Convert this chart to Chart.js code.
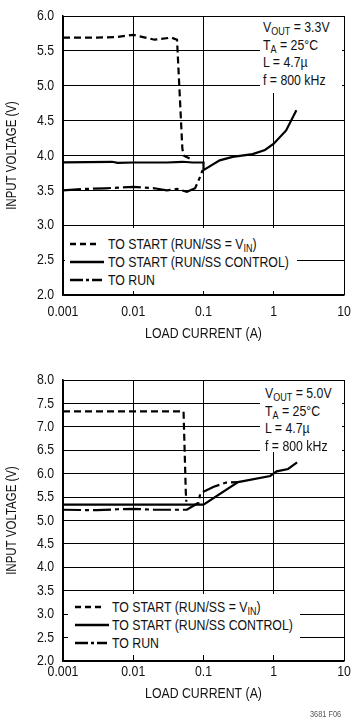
<!DOCTYPE html>
<html>
<head>
<meta charset="utf-8">
<script src="https://cdn.jsdelivr.net/npm/chart.js@4"></script>
<style>
  body { margin: 0; background: #fff; }
  #wrap { position: relative; width: 352px; height: 719px; font-family: 'Liberation Sans', Arial, sans-serif; color: #111; }
  canvas { position: absolute; left: 0; }
  .box { position: absolute; background: #fff; font-size: 15px; white-space: nowrap; box-sizing: border-box; }
  .nar { display: inline-block; transform: scaleX(0.82); transform-origin: 0 50%; }
  .box sub { font-size: 11px; vertical-align: -3px; line-height: 0; }
  .row { display: flex; align-items: center; }
  .row svg { flex: none; }
  #code { position: absolute; left: 310px; top: 709px; font-size: 9px; color: #555; }
</style>
</head>
<body>
<div id="wrap">
  <canvas id="chartTop" width="352" height="350" style="top:0"></canvas>
  <canvas id="chartBottom" width="352" height="359" style="top:360px"></canvas>

  <div class="box note" style="left:260px;top:17px;width:82px;height:76px;padding:1px 0 0 3px;line-height:17.5px">
    <div>V<sub>OUT</sub> = 3.3V</div>
    <div>T<sub>A</sub> = 25°C</div>
    <div>L = 4.7µ</div>
    <div>f = 800 kHz</div>
  </div>
  <div class="box note" style="left:260px;top:381px;width:82px;height:71px;padding:3px 0 0 5px;line-height:17.6px">
    <div>V<sub>OUT</sub> = 5.0V</div>
    <div>T<sub>A</sub> = 25°C</div>
    <div>L = 4.7µ</div>
    <div>f = 800 kHz</div>
  </div>

  <div class="box legend" data-gap="4" style="left:65px;top:228px;width:232px;height:63px;padding:7px 0 0 5px;line-height:18px"></div>
  <div class="box legend" data-gap="3" style="left:68px;top:594px;width:232px;height:61px;padding:3.5px 0 0 7px;line-height:18.3px"></div>

  <div id="code"><span class="nar">3681 F06</span></div>
</div>
<script>
// load current (A) / input voltage (V), VOUT = 3.3V
const topStartVinI = [0.001, 0.003, 0.006, 0.01, 0.02, 0.035, 0.042, 0.05, 0.052, 0.066];
const topStartVinV = [5.69, 5.69, 5.70, 5.73, 5.66, 5.69, 5.66, 4.10, 4.00, 3.95];
const topStartCtlI = [0.001, 0.005, 0.006, 0.01, 0.03, 0.05, 0.07, 0.1, 0.1, 0.17, 0.26, 0.5, 0.75, 1.0, 1.5, 2.1];
const topStartCtlV = [3.90, 3.91, 3.895, 3.90, 3.90, 3.91, 3.90, 3.90, 3.79, 3.93, 3.98, 4.02, 4.08, 4.17, 4.36, 4.65];
const topRunI = [0.001, 0.002, 0.004, 0.01, 0.02, 0.03, 0.042, 0.058, 0.076, 0.089, 0.097];
const topRunV = [3.50, 3.52, 3.53, 3.55, 3.53, 3.50, 3.52, 3.48, 3.53, 3.69, 3.79];

// VOUT = 5.0V
const botStartVinI = [0.001, 0.01, 0.052, 0.056, 0.057];
const botStartVinV = [7.33, 7.33, 7.33, 5.60, 5.40];
const botStartCtlI = [0.001, 0.1, 0.31, 0.89, 1.1, 1.6, 2.15];
const botStartCtlV = [5.34, 5.34, 5.82, 5.95, 6.05, 6.10, 6.24];
const botRunI = [0.001, 0.003, 0.006, 0.01, 0.02, 0.04, 0.058, 0.075, 0.085, 0.09, 0.14, 0.21, 0.31];
const botRunV = [5.23, 5.22, 5.24, 5.25, 5.23, 5.23, 5.23, 5.33, 5.38, 5.58, 5.72, 5.81, 5.82];

const xTicks = [0.001, 0.01, 0.1, 1, 10];
const seriesLabels = ['TO START (RUN/SS = V<sub>IN</sub>)', 'TO START (RUN/SS CONTROL)', 'TO RUN'];
const dashes = [[7, 4], [], [18, 4, 4, 4]];

Chart.defaults.font.family = "'Liberation Sans', Arial, sans-serif";
Chart.defaults.font.size = 15;
Chart.defaults.color = '#111';

// the original uses a condensed face; squeeze canvas text horizontally
const narrowText = {
    id: 'narrowText',
    beforeDraw(chart) {
        const ctx = chart.ctx;
        if (ctx._narrow) return;
        const fill = ctx.fillText.bind(ctx);
        ctx.fillText = function (t, x, y, w) {
            ctx.save();
            ctx.translate(x, y);
            ctx.scale(0.82, 1);
            fill(t, 0, 0);
            ctx.restore();
        };
        ctx._narrow = true;
    }
};

function pts(xs, ys) {
    return xs.map((x, i) => ({ x: x, y: ys[i] }));
}

function makeChart(id, sets, yMin, yMax, o) {
    const datasets = sets.map((s, i) => ({
        label: seriesLabels[i],
        data: pts(s[0], s[1]),
        borderColor: '#000',
        borderWidth: 2.2,
        borderDash: dashes[i],
        pointRadius: 0,
        tension: 0,
        fill: false
    }));

    return new Chart(document.getElementById(id), {
        type: 'line',
        data: { datasets: datasets },
        plugins: [narrowText],
        options: {
            responsive: false,
            animation: false,
            devicePixelRatio: 1,
            layout: { padding: { top: o.top, right: 8, left: 0, bottom: 0 } },
            plugins: { legend: { display: false }, tooltip: { enabled: false } },
            scales: {
                x: {
                    type: 'logarithmic',
                    min: 0.001,
                    max: 10,
                    afterBuildTicks: s => { s.ticks = xTicks.map(v => ({ value: v })); },
                    afterFit: s => {
                        s.height = o.xHeight;
                        // plot edges are fixed by layout padding, labels may hang over
                        s.paddingLeft = 0;
                        s.paddingRight = 0;
                    },
                    ticks: { autoSkip: false, maxRotation: 0, padding: o.xPad, callback: v => String(v) },
                    grid: { color: '#000', lineWidth: 1, drawTicks: false },
                    border: { color: '#000', width: 1.5 },
                    title: { display: true, text: 'LOAD CURRENT (A)', padding: { top: 0, bottom: o.titlePad } }
                },
                y: {
                    min: yMin,
                    max: yMax,
                    afterFit: s => {
                        s.width = 63;
                        s.paddingTop = 0;
                        s.paddingBottom = 0;
                    },
                    ticks: { stepSize: 0.5, padding: 9, callback: v => v.toFixed(1) },
                    grid: { color: '#000', lineWidth: 1, drawTicks: false },
                    border: { color: '#000', width: 1.5 },
                    title: { display: true, text: 'INPUT VOLTAGE (V)', font: { size: 14 }, padding: { top: 4, bottom: 0 } }
                }
            }
        }
    });
}

makeChart('chartTop', [[topStartVinI, topStartVinV], [topStartCtlI, topStartCtlV], [topRunI, topRunV]],
    2, 6, { top: 16, xHeight: 55, xPad: 8, titlePad: 7 });
makeChart('chartBottom', [[botStartVinI, botStartVinV], [botStartCtlI, botStartCtlV], [botRunI, botRunV]],
    2, 8, { top: 20, xHeight: 58, xPad: 2, titlePad: 16 });

// annotation lines: condensed look
document.querySelectorAll('.note > div').forEach(d => {
    d.innerHTML = '<span class="nar">' + d.innerHTML + '</span>';
});

// legend rows inside the plot, same line styles as the datasets
const sampleLen = [28, 34, 32];
const sampleDash = ['6 4', 'none', '13 3 3 3'];
document.querySelectorAll('.legend').forEach(box => {
    const gap = box.dataset.gap;
    box.innerHTML = seriesLabels.map((txt, i) =>
        '<div class="row"><svg width="34" height="6" style="margin-right:' + gap + 'px">' +
        '<line x1="0" y1="3" x2="' + sampleLen[i] + '" y2="3" stroke="#000" stroke-width="2.5" stroke-dasharray="' +
        sampleDash[i] + '"/></svg><span class="nar">' + txt + '</span></div>'
    ).join('');
});
</script>
</body>
</html>
